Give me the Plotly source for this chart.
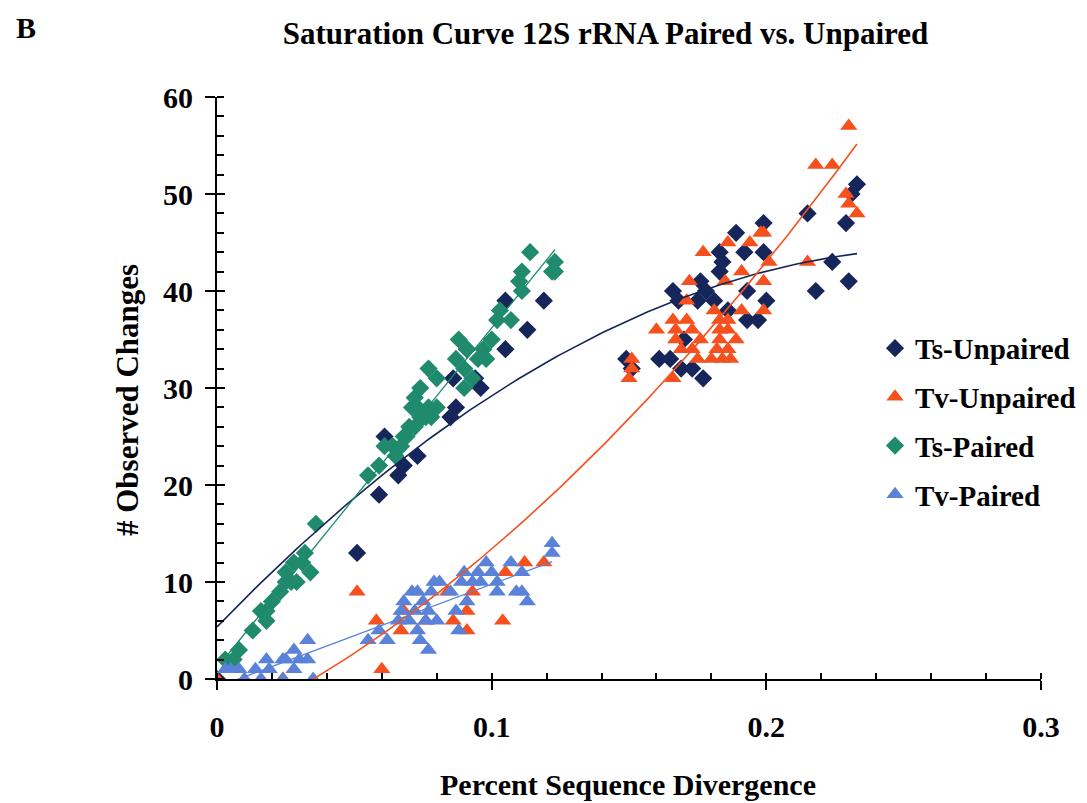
import numpy as np
import plotly.graph_objects as go

# ---------------- data ----------------
ts_paired_x = [0.003, 0.006, 0.008, 0.013, 0.016, 0.018, 0.018, 0.020, 0.023, 0.025, 0.025, 0.027,
               0.028, 0.029, 0.031, 0.032, 0.034, 0.036,
               0.055, 0.059, 0.061, 0.064, 0.065, 0.068, 0.070, 0.071, 0.072, 0.074,
               0.075, 0.077, 0.078, 0.080, 0.077, 0.080, 0.087, 0.088, 0.090, 0.090,
               0.091, 0.093, 0.095, 0.097, 0.098, 0.100, 0.102, 0.103, 0.107, 0.110,
               0.111, 0.111, 0.114, 0.122, 0.123, 0.123,
               0.069, 0.072, 0.074, 0.076, 0.073, 0.067]
ts_paired_y = [2, 2, 3, 5, 7, 6, 7, 8, 9, 10, 11, 10,
               12, 10, 12, 13, 11, 16,
               21, 22, 24, 24, 23, 25, 26, 28, 29, 30,
               27, 28, 27, 28, 32, 31, 33, 35, 32, 30,
               34, 31, 33, 34, 33, 35, 37, 38, 37, 41,
               42, 40, 44, 42, 43, 42,
               25, 26, 27, 27, 28, 24]

ts_unpaired_x = [0.000, 0.051, 0.059, 0.061, 0.066, 0.068, 0.073, 0.085, 0.087, 0.086, 0.094, 0.096,
                 0.091, 0.105, 0.105, 0.113, 0.119,
                 0.149, 0.151, 0.161, 0.165, 0.166, 0.168, 0.169, 0.170, 0.173, 0.175, 0.176,
                 0.177, 0.178, 0.181, 0.183, 0.183, 0.184, 0.186, 0.189, 0.192, 0.193, 0.193,
                 0.197, 0.199, 0.199, 0.200, 0.215, 0.218, 0.224, 0.229, 0.230, 0.231, 0.233]
ts_unpaired_y = [0, 13, 19, 25, 21, 22, 23, 27, 28, 31, 31, 30,
                 34, 34, 39, 36, 39,
                 33, 32, 33, 33, 40, 39, 32, 35, 32, 39, 41,
                 31, 40, 39, 44, 42, 43, 38, 46, 44, 40, 37,
                 37, 47, 44, 39, 48, 40, 43, 47, 41, 50, 51]

tv_unpaired_x = [0.000, 0.024, 0.051, 0.058, 0.060, 0.067, 0.068, 0.076, 0.084, 0.086, 0.091,
                 0.091, 0.093, 0.104, 0.105, 0.112, 0.119,
                 0.150, 0.151, 0.151, 0.160, 0.166, 0.166, 0.167, 0.167, 0.169, 0.171, 0.171,
                 0.172, 0.173, 0.173, 0.175, 0.176, 0.177, 0.181, 0.182, 0.183, 0.183, 0.185,
                 0.186, 0.186, 0.186, 0.189, 0.191, 0.191, 0.194, 0.198, 0.199, 0.199, 0.199,
                 0.201, 0.215, 0.218, 0.224, 0.229, 0.230, 0.230, 0.233,
                 0.180, 0.184, 0.187, 0.183, 0.186]
tv_unpaired_y = [0, 0, 9, 6, 1, 5, 7, 6, 9, 6, 7,
                 5, 9, 6, 11, 12, 12,
                 31, 32, 33, 36, 37, 31, 36, 35, 34, 37, 39,
                 41, 36, 34, 33, 35, 44, 38, 34, 36, 35, 41,
                 34, 36, 45, 35, 42, 38, 45, 46, 41, 38, 46,
                 43, 43, 53, 53, 50, 49, 57, 48,
                 33, 33, 33, 37, 37]

tv_paired_x = [0.003, 0.005, 0.008, 0.010, 0.014, 0.016, 0.018, 0.019, 0.024, 0.024, 0.025,
               0.028, 0.028, 0.030, 0.033, 0.033, 0.035, 0.055, 0.059, 0.062, 0.066, 0.067,
               0.068, 0.071, 0.073, 0.073, 0.074, 0.077, 0.077, 0.079, 0.080, 0.087, 0.088,
               0.090, 0.091, 0.093, 0.096, 0.098, 0.100, 0.102, 0.102, 0.107, 0.109, 0.111,
               0.111, 0.113, 0.122, 0.122,
               0.070, 0.072, 0.075, 0.076, 0.078, 0.081, 0.085, 0.089, 0.095]
tv_paired_y = [1, 1, 1, 0, 1, 0, 2, 1, 0, 2, 2,
               3, 1, 2, 2, 4, 0, 4, 5, 4, 6, 7,
               8, 9, 9, 5, 4, 3, 7, 10, 6, 7, 5,
               11, 8, 10, 10, 12, 11, 10, 9, 12, 9, 9,
               11, 8, 14, 13,
               6, 7, 8, 6, 9, 10, 9, 10, 11]

x_tick_vals = [0, 0.1, 0.2, 0.3]
x_tick_text = ["0", "0.1", "0.2", "0.3"]
y_tick_vals = [0, 10, 20, 30, 40, 50, 60]

NAVY = "#16265a"
ORANGE = "#f5501e"
GREEN = "#1f8a6c"
BLUE = "#5a82d8"
FONT = "Liberation Serif"


def trend(xs, ys, deg, x0, x1):
    c = np.polyfit(xs, ys, deg)
    xx = np.linspace(x0, x1, 120)
    return xx, np.polyval(c, xx)


fig = go.Figure()

series = [
    ("Ts-Unpaired", ts_unpaired_x, ts_unpaired_y, NAVY, "diamond", 14),
    ("Tv-Unpaired", tv_unpaired_x, tv_unpaired_y, ORANGE, "triangle-up", 15),
    ("Ts-Paired", ts_paired_x, ts_paired_y, GREEN, "diamond", 14),
    ("Tv-Paired", tv_paired_x, tv_paired_y, BLUE, "triangle-up", 15),
]

for name, xs, ys, col, sym, sz in series:
    fig.add_trace(go.Scatter(
        x=xs, y=ys, mode="markers", name=name, legendgroup=name,
        marker=dict(symbol=sym, size=sz, color=col, line=dict(width=0)),
    ))

# trend lines (fitted from the data)
lines = [
    (ts_unpaired_x, ts_unpaired_y, 2, 0.0, max(ts_unpaired_x), NAVY, 1.6),
    (tv_unpaired_x, tv_unpaired_y, 2, 0.0, max(tv_unpaired_x), ORANGE, 1.6),
    (ts_paired_x, ts_paired_y, 1, min(ts_paired_x), max(ts_paired_x), GREEN, 1.3),
    (tv_paired_x, tv_paired_y, 1, min(tv_paired_x), max(tv_paired_x), BLUE, 1.3),
]
for xs, ys, deg, a, b, col, w in lines:
    xx, yy = trend(xs, ys, deg, a, b)
    fig.add_trace(go.Scatter(x=xx, y=yy, mode="lines", line=dict(color=col, width=w),
                             showlegend=False, hoverinfo="skip"))

# dummy trace for overlay axes (crossing tick marks)
fig.add_trace(go.Scatter(x=[None], y=[None], xaxis="x2", yaxis="y2", showlegend=False))

tickfont = dict(family=FONT, size=30, color="black", weight="bold")
bold = lambda s: dict(family=FONT, size=s, color="black", weight="bold")

fig.update_layout(
    width=1087, height=803,
    margin=dict(l=217, r=46, t=97, b=124, autoexpand=False),
    paper_bgcolor="white", plot_bgcolor="white",
    font=dict(family=FONT, color="black"),
    showlegend=True,
    title=dict(text="Saturation Curve 12S rRNA Paired vs. Unpaired",
               font=bold(31),
               x=0.557, xref="container", xanchor="center",
               y=1 - 33 / 803, yref="container", yanchor="middle"),
    xaxis=dict(range=[0, 0.3], tickvals=x_tick_vals, ticktext=x_tick_text,
               showgrid=False, zeroline=False, showline=True, linecolor="black", linewidth=2,
               ticks="outside", ticklen=9, tickwidth=2, tickcolor="black",
               minor=dict(ticks="inside", dtick=0.02, ticklen=6, tickwidth=2, tickcolor="black", showgrid=False),
               tickfont=tickfont, ticklabelstandoff=11),
    yaxis=dict(range=[0, 60], tickvals=y_tick_vals,
               showgrid=False, zeroline=False, showline=True, linecolor="black", linewidth=2,
               ticks="outside", ticklen=10, tickwidth=2, tickcolor="black",
               minor=dict(ticks="inside", dtick=2, ticklen=7, tickwidth=2, tickcolor="black", showgrid=False),
               tickfont=tickfont, ticklabelstandoff=6),
    xaxis2=dict(range=[0, 0.3], overlaying="x", anchor="y2", side="bottom",
                tickvals=x_tick_vals, showticklabels=False, ticks="inside", ticklen=6,
                tickwidth=2, tickcolor="black", showgrid=False, zeroline=False, showline=False),
    yaxis2=dict(range=[0, 60], overlaying="y", anchor="x2", side="left",
                tickvals=y_tick_vals, showticklabels=False, ticks="inside", ticklen=8,
                tickwidth=2, tickcolor="black", showgrid=False, zeroline=False, showline=False),
    legend=dict(x=(875 - 217) / 824, xanchor="left", y=0.612, yanchor="top",
                bgcolor="rgba(0,0,0,0)", traceorder="grouped", tracegroupgap=8,
                font=bold(29)),
    annotations=[
        dict(text="B", x=(26 - 217) / 824, y=(679 - 28) / 582, xref="paper", yref="paper",
             showarrow=False, xanchor="center", yanchor="middle", font=bold(30)),
        dict(text="Percent Sequence Divergence", x=(628 - 217) / 824, y=(679 - 784) / 582,
             xref="paper", yref="paper", showarrow=False, xanchor="center", yanchor="middle",
             font=bold(30)),
        dict(text="# Observed Changes", x=(128 - 217) / 824, y=(679 - 400) / 582,
             xref="paper", yref="paper", showarrow=False, xanchor="center", yanchor="middle",
             textangle=-90, font=bold(31)),
    ],
)

fig.write_html("out.html")
